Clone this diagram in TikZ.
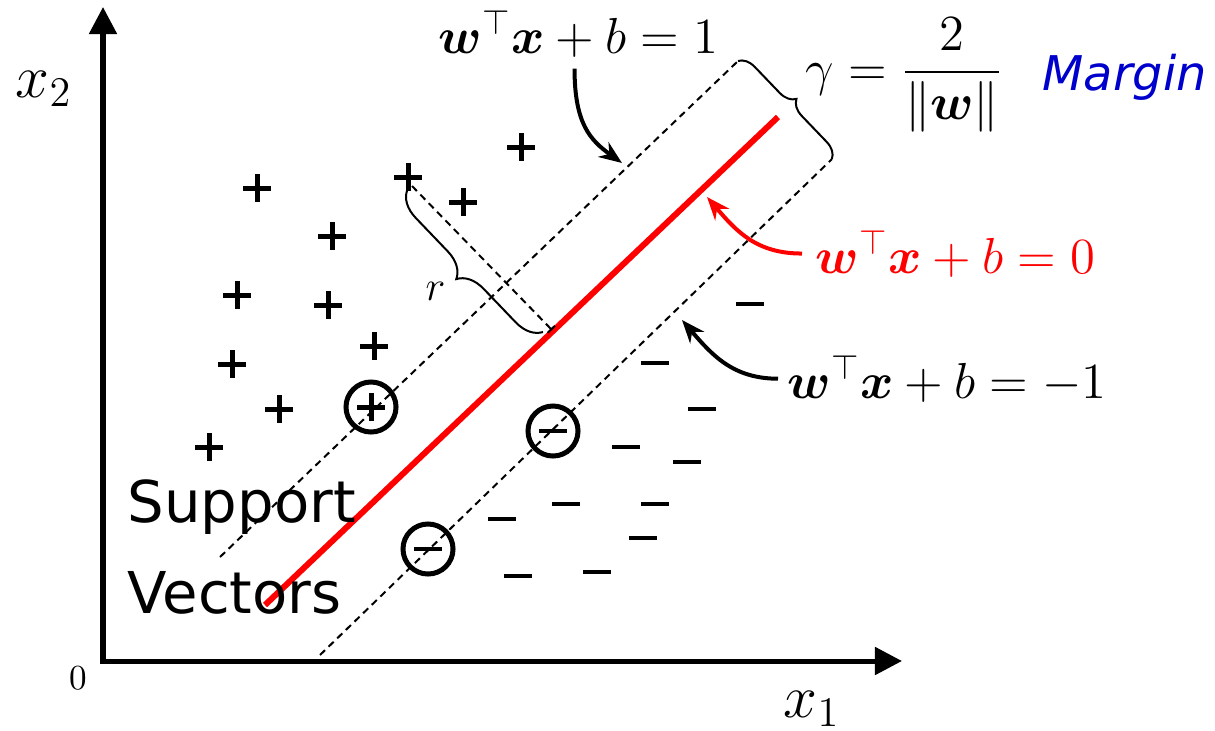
\documentclass[tikz,border=0pt]{standalone}
\usepackage{amsmath,amssymb,bm}
\usepackage{fontspec}
\newfontfamily\dejavu{DejaVu Sans}
\usetikzlibrary{calc,decorations.pathreplacing,arrows.meta}
\definecolor{margblue}{RGB}{0,0,204}

\begin{document}
\begin{tikzpicture}[x=0.01cm,y=-0.01cm,
    lbl/.style={inner sep=0pt},
    eq/.style={lbl,font=\fontsize{14}{16}\selectfont},
    pt/.style={line width=0.05cm},
    sv/.style={circle,draw,line width=0.05cm,minimum size=0.5cm,inner sep=0pt},
    bound/.style={dash pattern=on 0.07cm off 0.05cm,line width=0.02cm},
    brc/.style={decorate,decoration={brace,amplitude=#1},line width=0.02cm},
    callout/.style={line width=0.04cm,-{Stealth[length=0.23cm,width=0.18cm]}}]
        \useasboundingbox (0,0) rectangle (1215,730);

        \coordinate (O) at (103,661);
        \coordinate (X) at (902,661);
        \coordinate (Y) at (103,7);

        \coordinate (R1) at (265,605);
        \coordinate (R2) at (778,117);
        \coordinate (U1) at (220,557);
        \coordinate (U2) at (738,61);
        \coordinate (L1) at (320,655);
        \coordinate (L2) at (832,159);

        \coordinate (P) at (412,186); % foot of r on the + side
        \coordinate (Q) at (552,330);

        \coordinate (t1) at (622,163);
        \coordinate (t0) at (707,197);
        \coordinate (tm1) at (682,320);

        \draw[line width=0.05cm,line join=miter,{Triangle[length=0.27cm,width=0.27cm]}-{Triangle[length=0.27cm,width=0.27cm]}] (Y) -- (O) -- (X);

        \draw[bound] (U1) -- (U2);
        \draw[bound] (L1) -- (L2);
        \draw[red,line width=0.06cm] (R1) -- (R2);

        \draw[bound,-{Bar[width=0.1cm]}] (P) -- (Q);
        \draw[brc=0.26cm] (543,332) -- (407,190);
        \draw[brc=0.16cm] (U2) -- (L2);

        % Punkte
        \foreach \x/\y in {257/188,408/177,521/147,463/202,332/236,237/295,328/305,374/346,232/364,279/409,209/447,371/407}
            \draw[pt] (\x-14,\y) -- (\x+14,\y) (\x,\y-14) -- (\x,\y+14);
        \foreach \x/\y in {750/304,655/363,702/409,626/447,687/462,566/504,655/504,502/519,643/538,518/576,597/572,553/431,428/549}
            \draw[line width=0.045cm] (\x-14,\y) -- (\x+14,\y);

        \node[sv] (svp) at (371,407) {};
        \node[sv] (svm1) at (553,431) {};
        \node[sv] (svm2) at (428,549) {};

        \node[lbl,font=\fontsize{17.6}{20}\selectfont,anchor=base west] (x2) at (15,97) {$x_2$};
        \node[lbl,font=\fontsize{17.6}{20}\selectfont,anchor=base west] (x1) at (783,717) {$x_1$};
        \node[lbl,font=\fontsize{9.7}{11}\selectfont] (zero) at (78,678) {$0$};
        \node[lbl,font=\fontsize{12}{14}\selectfont,anchor=base west] (r) at (425,300) {$r$};

        \node[eq,anchor=base west] (eq1) at (438,53) {$\bm{w}^{\top}\bm{x}+b=1$};
        \node[eq,anchor=base west,red] (eq0) at (815,273) {$\bm{w}^{\top}\bm{x}+b=0$};
        \node[eq,anchor=base west] (eqm1) at (787,398) {$\bm{w}^{\top}\bm{x}+b=-1$};
        \node[eq,anchor=base west] (gam) at (805,85) {$\displaystyle\gamma=\frac{2}{\|\bm{w}\|}$};
        \node[lbl,font=\dejavu\itshape\fontsize{13.6}{16}\selectfont,text=margblue,anchor=base west] (marg) at (1042,90) {Margin};
        \node[lbl,font=\dejavu\fontsize{16.4}{25.6}\selectfont,align=left,anchor=base west] (svtxt) at (127,613) {Support\\Vectors};

        \draw[callout] ($(eq1.south)+(-4,11)$) .. controls +(0,55) and +(-32,-23) .. (t1);
        \draw[callout,red] ($(eq0.west)+(-13,0)$) .. controls +(-45,0) and +(30,35) .. (t0);
        \draw[callout] ($(eqm1.west)+(-9,0)$) .. controls +(-45,0) and +(30,35) .. (tm1);
    \end{tikzpicture}
\end{document}
